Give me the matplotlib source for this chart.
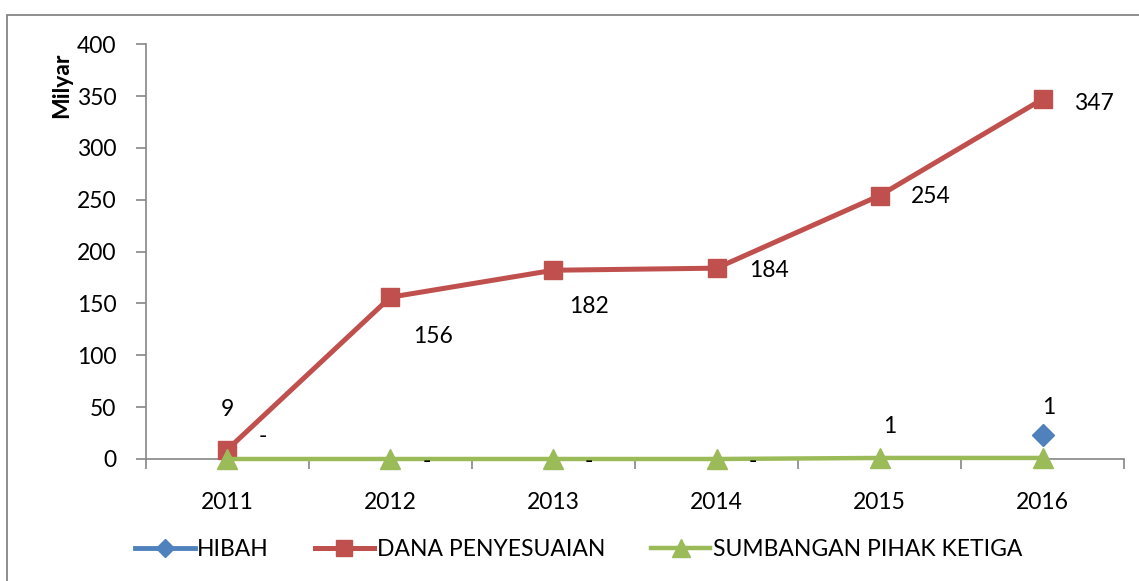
#!/usr/bin/env python3
"""Line chart: Hibah, Dana Penyesuaian and Sumbangan Pihak Ketiga, 2011-2016"""

import matplotlib
matplotlib.use('Agg')
import matplotlib.pyplot as plt
from matplotlib.patches import Rectangle
import numpy as np

plt.rcParams['font.family'] = ['Lato', 'DejaVu Sans']

years = ['2011', '2012', '2013', '2014', '2015', '2016']
hibah = [np.nan, np.nan, np.nan, np.nan, np.nan, 23]
dana_penyesuaian = [9, 156, 182, 184, 254, 347]
sumbangan = [0, 0, 0, 0, 1, 1]
dana_labels = ['9', '156', '182', '184', '254', '347']
sumbangan_labels = ['-', '-', '-', '-', '1', '1']

BLUE = '#4F81BD'
RED = '#C0504D'
GREEN = '#9BBB59'
GRAY = '#868686'
FS = 16.5

fig = plt.figure(figsize=(11.39, 5.81), dpi=100)
ax = fig.add_axes([0.128, 0.21, 0.859, 0.714])

x = np.arange(len(years))
ax.plot(x, hibah, color=BLUE, lw=3.5, marker='D', ms=11, label='HIBAH',
        zorder=3, clip_on=False)
ax.plot(x, dana_penyesuaian, color=RED, lw=3.6, marker='s', ms=13,
        label='DANA PENYESUAIAN', zorder=3, clip_on=False)
ax.plot(x, sumbangan, color=GREEN, lw=3.2, marker='^', ms=15,
        label='SUMBANGAN PIHAK KETIGA', zorder=4, clip_on=False)

# data labels (pixel offsets from each point), drawn above the lines
dana_off = [(0, 40), (43, -39), (36, -36), (52, -2), (51, -1), (51, -4)]
for xi, yi, txt, off in zip(x, dana_penyesuaian, dana_labels, dana_off):
    ax.annotate(txt, (xi, yi), xytext=off, textcoords='offset pixels',
                ha='center', va='center', fontsize=FS, zorder=6)
sumb_off = [(35, 22), (36, -3), (35, -3), (36, -3), (10, 31), (6, 50)]
for xi, yi, txt, off in zip(x, sumbangan, sumbangan_labels, sumb_off):
    ax.annotate(txt, (xi, yi), xytext=off, textcoords='offset pixels',
                ha='center', va='center', fontsize=FS, zorder=6)

ax.set_xlim(-0.5, len(years) - 0.5)
ax.set_ylim(0, 400)
ax.set_yticks(np.arange(0, 401, 50))
ax.set_xticks(x)
ax.set_xticklabels(years)
ax.set_xticks(np.arange(-0.5, len(years)), minor=True)

for side in ['top', 'right']:
    ax.spines[side].set_visible(False)
for side in ['left', 'bottom']:
    ax.spines[side].set_color(GRAY)
    ax.spines[side].set_linewidth(1.2)

ax.tick_params(axis='y', length=7, width=1.2, color=GRAY, pad=14, labelsize=FS)
ax.tick_params(axis='x', which='major', length=0, pad=24, labelsize=FS)
ax.tick_params(axis='x', which='minor', length=7, width=1.2, color=GRAY)

fig.text(62 / 1139, 1 - 85 / 581, 'Milyar', rotation=90, fontsize=FS,
         fontweight='bold', ha='center', va='center')

fig.legend(loc='center', bbox_to_anchor=(0.508, 0.055), ncol=3, frameon=False,
           fontsize=FS, handlelength=2.6, columnspacing=2.0, handletextpad=0.1,
           markerscale=0.85)

# outer chart frame
fig.patches.append(Rectangle((7 / 1139, -0.05), 1.2, 1 - 15 / 581 + 0.05,
                             transform=fig.transFigure, fill=False,
                             edgecolor=GRAY, linewidth=1.3))

fig.savefig('out.png', dpi=100)
